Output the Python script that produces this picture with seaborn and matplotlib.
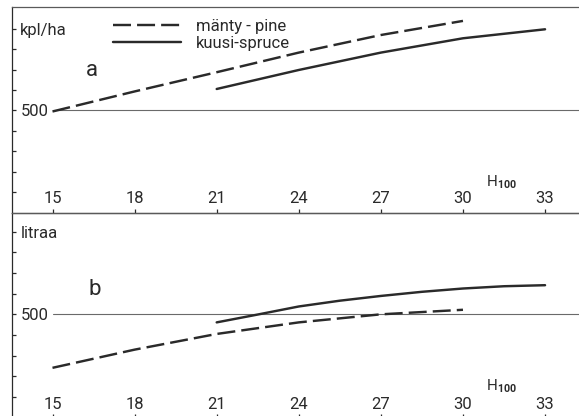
import matplotlib
matplotlib.use("Agg")
import matplotlib.pyplot as plt
import pandas as pd
import seaborn as sns

# Dominant height H100 (m) at which each curve is given
h_pine = [15, 18, 21, 24, 27, 30]
h_spruce = [21, 24, 27, 30, 33]
h_spruce_b = [21, 22.5, 24, 25.5, 27, 28.5, 30, 31.5, 33]

# a: stems per hectare
stems_pine = [495, 593, 687, 783, 869, 938]
stems_spruce = [605, 698, 783, 853, 897]

# b: mean stem volume, litres
vol_pine = [241, 329, 405, 461, 500, 522]
vol_spruce = [461, 499, 538, 566, 589, 609, 625, 636, 641]

pine_label = "mänty - pine"
spruce_label = "kuusi-spruce"
x_ticks = [15, 18, 21, 24, 27, 30, 33]
y_ticks = [100, 200, 300, 400, 500, 600, 700, 800, 900]
unit_a = "kpl/ha"
unit_b = "litraa"
panel_a = "a"
panel_b = "b"
x_title = r"$\mathrm{H}_{\mathbf{100}}$"

sns.set_theme(style="white")
plt.rcParams["font.family"] = ["Roboto", "DejaVu Sans"]
plt.rcParams["mathtext.fontset"] = "custom"
plt.rcParams["mathtext.rm"] = "Roboto"
plt.rcParams["mathtext.bf"] = "Roboto:bold"

INK = "#2a2a2a"
W, H = 579, 416
XLIM = (13.52, 34.24)
FS = 12

fig = plt.figure(figsize=(W / 100, H / 100), dpi=100)
fig.patch.set_facecolor("white")


def px_axes(left, top, right, bottom):
    return fig.add_axes([left / W, 1 - bottom / H, (right - left) / W, (bottom - top) / H])


def frame(pine_h, pine_vals, spruce_h, spruce_vals):
    return pd.DataFrame({
        "H100": list(pine_h) + list(spruce_h),
        "value": list(pine_vals) + list(spruce_vals),
        "species": [pine_label] * len(pine_h) + [spruce_label] * len(spruce_h),
    })


def draw_panel(ax, df, ylim, unit, letter, letter_xy, label_pad, title_y, legend):
    sns.lineplot(data=df, x="H100", y="value", style="species",
                 style_order=[pine_label, spruce_label],
                 dashes={pine_label: (7.4, 2.5), spruce_label: ""},
                 color=INK, linewidth=1.75, ax=ax, legend=legend)
    ax.set_xlim(*XLIM)
    ax.set_ylim(*ylim)
    ax.axhline(500, xmin=(15 - XLIM[0]) / (XLIM[1] - XLIM[0]), xmax=1,
               color="#6a6a6a", lw=0.8, zorder=1)

    ax.set_xticks(x_ticks)
    ax.set_xticklabels([str(t) for t in x_ticks])
    ax.tick_params(axis="x", direction="in", length=2.8, width=0.9, color=INK,
                   pad=-label_pad, labelsize=FS, labelcolor=INK, bottom=True)
    for lbl in ax.get_xticklabels():
        lbl.set_va("baseline")

    ax.set_yticks(y_ticks)
    ax.set_yticklabels([unit if t == 900 else ("500" if t == 500 else "") for t in y_ticks])
    ax.tick_params(axis="y", direction="in", length=2.8, width=0.9, color=INK,
                   pad=-6.0, labelsize=FS, labelcolor=INK, left=True)
    for lbl in ax.get_yticklabels():
        lbl.set_ha("left")

    ax.set_ylabel("")
    ax.set_xlabel(x_title, fontsize=11, color=INK, ha="left", va="baseline")
    ax.xaxis.set_label_coords((486 - 12) / 567, title_y)

    ax.text(letter_xy[0], letter_xy[1], letter, fontsize=16, color=INK,
            ha="center", va="baseline")

    for side in ("left", "top", "bottom"):
        ax.spines[side].set_color(INK)
        ax.spines[side].set_linewidth(0.9)
    ax.spines["top"].set_color("#5a5a5a")
    ax.spines["right"].set_visible(False)
    ax.set_facecolor("none")


ax_a = px_axes(12, 7, 579, 212.7)
ax_b = px_axes(12, 212.7, 579, 417.6)

draw_panel(ax_a, frame(h_pine, stems_pine, h_spruce, stems_spruce), (0, 1006),
           unit_a, panel_a, (16.44, 669), 6.8, 0.126, True)
draw_panel(ax_b, frame(h_pine, vol_pine, h_spruce_b, vol_spruce), (0, 992),
           unit_b, panel_b, (16.55, 592), 6.2, 0.133, False)

sns.move_legend(ax_a, "upper left",
                bbox_to_anchor=((113 - 12) / 567, (212.7 - 19) / 205.7),
                title=None, frameon=False, handlelength=4.1, handletextpad=0.85,
                labelspacing=0.12, borderpad=0, borderaxespad=0, fontsize=FS,
                labelcolor=INK)

fig.savefig("out.png", dpi=100, facecolor="white")
